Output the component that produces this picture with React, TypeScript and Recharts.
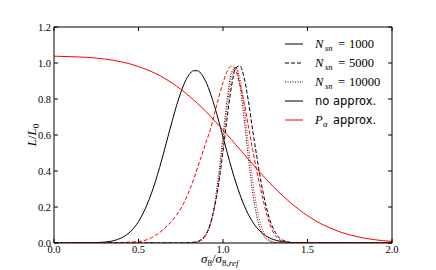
import React from "react";
import { LineChart, Line, XAxis, YAxis } from "recharts";

// sigma_8 / sigma_8,ref sample points (finer around the peaks)
const sigmaRatio = [
  0, 0.1, 0.2, 0.3, 0.35, 0.4, 0.45,
  0.5, 0.525, 0.55, 0.575, 0.6, 0.625, 0.65, 0.675, 0.7, 0.725,
  0.75, 0.775, 0.8, 0.825, 0.85, 0.875, 0.9, 0.925, 0.95, 0.975,
  1.0, 1.025, 1.05, 1.075, 1.1, 1.125, 1.15, 1.175, 1.2, 1.225,
  1.25, 1.275, 1.3, 1.325, 1.35, 1.375, 1.4, 1.425, 1.45, 1.475,
  1.5, 1.55, 1.6, 1.7, 1.8, 1.9, 2.0,
];

// N_sn = 1000
const noApprox1000 = [
  0, 0, 0.001, 0.005, 0.012, 0.029, 0.061,
  0.119, 0.161, 0.212, 0.272, 0.342, 0.42, 0.505, 0.593, 0.68, 0.763,
  0.835, 0.895, 0.936, 0.957, 0.957, 0.935, 0.893, 0.833, 0.759, 0.677,
  0.589, 0.502, 0.417, 0.339, 0.27, 0.209, 0.159, 0.118, 0.085, 0.061,
  0.042, 0.028, 0.019, 0.012, 0.008, 0.005, 0.003, 0.002, 0.001, 0.001,
  0, 0, 0, 0, 0, 0, 0,
];
const pAlpha1000 = [
  1.038, 1.035, 1.031, 1.022, 1.015, 1.006, 0.995,
  0.98, 0.972, 0.963, 0.953, 0.942, 0.93, 0.917, 0.903, 0.888, 0.872,
  0.854, 0.836, 0.816, 0.796, 0.774, 0.752, 0.729, 0.705, 0.68, 0.654,
  0.628, 0.601, 0.575, 0.547, 0.52, 0.493, 0.465, 0.439, 0.412, 0.386,
  0.36, 0.335, 0.311, 0.288, 0.266, 0.244, 0.224, 0.204, 0.186, 0.168,
  0.152, 0.122, 0.098, 0.059, 0.034, 0.018, 0.009,
];

// N_sn = 5000
const noApprox5000 = [
  0, 0, 0, 0, 0, 0, 0,
  0, 0, 0, 0, 0, 0, 0, 0, 0, 0,
  0, 0.001, 0.002, 0.004, 0.009, 0.022, 0.051, 0.106, 0.198, 0.334,
  0.509, 0.7, 0.868, 0.972, 0.984, 0.918, 0.79, 0.63, 0.48, 0.34,
  0.225, 0.135, 0.075, 0.038, 0.018, 0.008, 0.003, 0.001, 0, 0,
  0, 0, 0, 0, 0, 0, 0,
];
const pAlpha5000 = [
  0, 0, 0, 0.001, 0.002, 0.003, 0.005,
  0.008, 0.012, 0.018, 0.028, 0.042, 0.058, 0.078, 0.1, 0.125, 0.155,
  0.19, 0.235, 0.29, 0.35, 0.42, 0.49, 0.56, 0.63, 0.72, 0.81,
  0.89, 0.955, 0.983, 0.96, 0.88, 0.78, 0.65, 0.52, 0.4, 0.29,
  0.19, 0.11, 0.055, 0.025, 0.01, 0.004, 0.001, 0, 0, 0,
  0, 0, 0, 0, 0, 0, 0,
];

// N_sn = 10000
const noApprox10000 = [
  0, 0, 0, 0, 0, 0, 0,
  0, 0, 0, 0, 0, 0, 0, 0, 0, 0,
  0, 0, 0, 0.002, 0.006, 0.017, 0.046, 0.107, 0.218, 0.385,
  0.594, 0.8, 0.946, 0.975, 0.877, 0.69, 0.474, 0.284, 0.149, 0.068,
  0.027, 0.01, 0.003, 0.001, 0, 0, 0, 0, 0, 0,
  0, 0, 0, 0, 0, 0, 0,
];
const pAlpha10000 = [
  0, 0, 0, 0, 0, 0, 0,
  0, 0, 0, 0, 0, 0, 0, 0, 0, 0,
  0, 0, 0, 0.002, 0.006, 0.016, 0.043, 0.098, 0.198, 0.351,
  0.549, 0.756, 0.915, 0.975, 0.915, 0.756, 0.549, 0.351, 0.198, 0.098,
  0.043, 0.016, 0.006, 0.002, 0, 0, 0, 0, 0, 0,
  0, 0, 0, 0, 0, 0, 0,
];

const xTicks = [0, 0.5, 1.0, 1.5, 2.0];
const yTicks = [0, 0.2, 0.4, 0.6, 0.8, 1.0, 1.2];
const legendSizes = ["1000", "5000", "10000"];

const data = sigmaRatio.map((x, i) => ({
  x,
  noApprox1000: noApprox1000[i],
  pAlpha1000: pAlpha1000[i],
  noApprox5000: noApprox5000[i],
  pAlpha5000: pAlpha5000[i],
  noApprox10000: noApprox10000[i],
  pAlpha10000: pAlpha10000[i],
}));

const SERIF = '"Liberation Serif", "DejaVu Serif", serif';
const SANS = '"DejaVu Sans", sans-serif';
const RED = "#ff0000";
const DASH = "4 2";
const DOT = "1 1.5";

const BottomTick = ({ x, y, payload }: any) => (
  <g>
    <line x1={x} x2={x} y1={y} y2={y - 4} stroke="#000" />
    <text x={x} y={y + 10} textAnchor="middle" fontSize={10.5} fontFamily={SERIF} fill="#000">
      {Number(payload.value).toFixed(1)}
    </text>
  </g>
);

const LeftTick = ({ x, y, payload }: any) => (
  <g>
    <line x1={x} x2={x + 4} y1={y} y2={y} stroke="#000" />
    <text x={x - 3} y={y + 3.5} textAnchor="end" fontSize={10.5} fontFamily={SERIF} fill="#000">
      {Number(payload.value).toFixed(1)}
    </text>
  </g>
);

const TopTick = ({ x, y }: any) => <line x1={x} x2={x} y1={y} y2={y + 4} stroke="#000" />;
const RightTick = ({ x, y }: any) => <line x1={x} x2={x - 4} y1={y} y2={y} stroke="#000" />;

function Legend() {
  const rowY = (i: number) => 44 + i * 19;
  return (
    <svg width={436} height={270} style={{ position: "absolute", left: 0, top: 0, pointerEvents: "none" }}>
      {legendSizes.map((n, i) => (
        <g key={n}>
          <line
            x1={285} x2={303} y1={rowY(i)} y2={rowY(i)}
            stroke="#000"
            strokeDasharray={i === 0 ? undefined : i === 1 ? DASH : DOT}
          />
          <text y={rowY(i) + 4} fontFamily={SERIF} fontSize={12.5} fill="#000">
            <tspan x={315} fontStyle="italic">N</tspan>
            <tspan x={325} dy={3} fontSize={8.5} fontStyle="italic">sn</tspan>
            <tspan x={338} dy={-3}>=</tspan>
            <tspan x={349}>{n}</tspan>
          </text>
        </g>
      ))}
      <line x1={285} x2={303} y1={rowY(3)} y2={rowY(3)} stroke="#000" />
      <text x={315} y={rowY(3) + 4} fontFamily={SANS} fontSize={11.5} fill="#000">no approx.</text>
      <line x1={285} x2={303} y1={rowY(4)} y2={rowY(4)} stroke={RED} />
      <text y={rowY(4) + 4} fill="#000">
        <tspan x={315} fontFamily={SERIF} fontStyle="italic" fontSize={12.5}>P</tspan>
        <tspan x={323} dy={3} fontFamily={SERIF} fontStyle="italic" fontSize={8.5}>α</tspan>
        <tspan x={333} dy={-3} fontFamily={SANS} fontSize={11.5}>approx.</tspan>
      </text>
      {/* axis titles */}
      <text y={263} fontFamily={SERIF} fontSize={13} fill="#000">
        <tspan x={201} fontStyle="italic">σ</tspan>
        <tspan dy={3} fontSize={9}>8</tspan>
        <tspan dy={-3}>/</tspan>
        <tspan fontStyle="italic">σ</tspan>
        <tspan dy={3} fontSize={9}>8,</tspan>
        <tspan fontSize={9} fontStyle="italic">ref</tspan>
      </text>
      <text
        x={36} y={135}
        transform="rotate(-90 36 135)"
        textAnchor="middle"
        fontFamily={SERIF}
        fontSize={13}
        fill="#000"
      >
        <tspan fontStyle="italic">L</tspan>
        <tspan>/</tspan>
        <tspan fontStyle="italic">L</tspan>
        <tspan dy={3} fontSize={9}>0</tspan>
      </text>
    </svg>
  );
}

export default function App() {
  return (
    <div style={{ position: "absolute", left: 0, top: 0, width: 436, height: 270, background: "#fff" }}>
      <LineChart width={436} height={270} data={data} margin={{ top: 26, right: 43, bottom: 0, left: 0 }}>
        <XAxis
          dataKey="x" type="number" domain={[0, 2]} ticks={xTicks} interval={0}
          height={27} tickSize={0} tickMargin={0} tickLine={false}
          axisLine={{ stroke: "#000" }} tick={BottomTick} allowDataOverflow
        />
        <XAxis
          xAxisId="top" orientation="top" dataKey="x" type="number" domain={[0, 2]} ticks={xTicks}
          interval={0} height={1} tickSize={0} tickMargin={0} tickLine={false}
          axisLine={{ stroke: "#000" }} tick={TopTick} allowDataOverflow
        />
        <YAxis
          type="number" domain={[0, 1.2]} ticks={yTicks} interval={0} width={54}
          tickSize={0} tickMargin={0} tickLine={false}
          axisLine={{ stroke: "#000" }} tick={LeftTick} allowDataOverflow
        />
        <YAxis
          yAxisId="right" orientation="right" type="number" domain={[0, 1.2]} ticks={yTicks}
          interval={0} width={1} tickSize={0} tickMargin={0} tickLine={false}
          axisLine={{ stroke: "#000" }} tick={RightTick} allowDataOverflow
        />
        <Line type="monotone" dataKey="noApprox1000" stroke="#000" strokeWidth={1} dot={false} isAnimationActive={false} />
        <Line type="monotone" dataKey="pAlpha1000" stroke={RED} strokeWidth={1} dot={false} isAnimationActive={false} />
        <Line type="monotone" dataKey="noApprox5000" stroke="#000" strokeWidth={1} strokeDasharray={DASH} dot={false} isAnimationActive={false} />
        <Line type="monotone" dataKey="pAlpha5000" stroke={RED} strokeWidth={1} strokeDasharray={DASH} dot={false} isAnimationActive={false} />
        <Line type="monotone" dataKey="noApprox10000" stroke="#000" strokeWidth={1} strokeDasharray={DOT} dot={false} isAnimationActive={false} />
        <Line type="monotone" dataKey="pAlpha10000" stroke={RED} strokeWidth={1} strokeDasharray={DOT} dot={false} isAnimationActive={false} />
      </LineChart>
      <Legend />
    </div>
  );
}
